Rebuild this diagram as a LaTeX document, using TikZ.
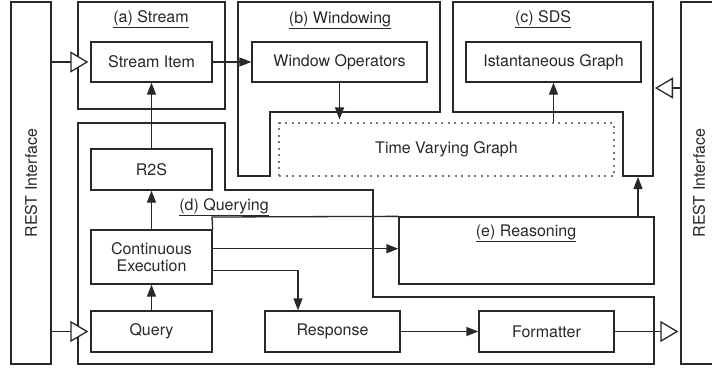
\documentclass[tikz,border=0pt]{standalone}
\usepackage{fontspec}
\setmainfont{TeX Gyre Heros}
\usetikzlibrary{arrows.meta,calc}
\definecolor{ink}{RGB}{40,40,40}
\definecolor{dotink}{RGB}{120,120,120}
\tikzset{
  every node/.style={font=\fontsize{16}{17}\selectfont, text=ink},
  box/.style={draw=ink, line width=1.3pt, inner sep=0pt, align=center},
  region/.style={draw=ink, line width=1.3pt},
  conn/.style={draw=ink, line width=1.3pt},
  arr/.style={conn, -{Triangle[length=12pt,width=9pt]}},
  openarr/.style={conn, -{Triangle[open,length=18pt,width=21pt,fill=white]}},
  dotbox/.style={draw=dotink, line width=1.1pt, dash pattern=on 2pt off 4.5pt, inner sep=0pt},
  title/.style={inner sep=0pt}
}
\begin{document}
\begin{tikzpicture}[x=1pt,y=-1pt]
\useasboundingbox (0,0) rectangle (712,367);
\clip (0,0) rectangle (712,367);

% REST interfaces on both sides
\node[box, minimum width=40pt, minimum height=362pt] (restL) at (31,183) {};
\node[rotate=90] (restLtxt) at (restL.center) {REST Interface};
\node[box, minimum width=40pt, minimum height=362pt] (restR) at (701,183) {};
\node[rotate=90] (restRtxt) at (699,183) {REST Interface};

% (a) Stream
\draw[region] (78,2) rectangle (225,109);
\node[title] (lblA) at (151,19) {\underline{(a) Stream}};
\node[box, minimum width=121pt, minimum height=40pt] (streamItem) at (151.5,62) {Stream Item};

% (b) Windowing
\draw[region] (238,2) -- (440,2) -- (440,112) -- (270,112) -- (270,176) -- (238,176) -- cycle;
\node[title] (lblB) at (340,20) {\underline{(b) Windowing}};
\node[box, minimum width=175pt, minimum height=40pt] (winOps) at (339.5,62) {Window Operators};

% (c) SDS
\draw[region] (453,2) -- (653,2) -- (653,176) -- (623,176) -- (623,112) -- (453,112) -- cycle;
\node[title] (lblC) at (543,19) {\underline{(c) SDS}};
\node[box, minimum width=175pt, minimum height=40pt] (instGraph) at (553.5,62) {Istantaneous Graph};
\coordinate (sdsRight) at (653,88);
\coordinate (sdsBottom) at (638,176);

% time varying graph
\node[dotbox, minimum width=335pt, minimum height=53pt] (tvg) at (446.5,149.5) {Time Varying Graph};

% (d) Querying
\draw[region] (78,123) -- (225,123) -- (225,190) -- (373,190) -- (373,297) -- (654,297) -- (654,364) -- (78,364) -- cycle;
\node[title] (lblD) at (224,207) {\underline{(d) Querying}};
\node[box, minimum width=121pt, minimum height=41pt] (r2s) at (151.5,169.5) {R2S};
\node[box, minimum width=121pt, minimum height=54pt] (contExec) at (151.5,257) {Continuous\\Execution};
\node[box, minimum width=121pt, minimum height=41pt] (query) at (151.5,331.5) {Query};
\node[box, minimum width=135pt, minimum height=41pt] (response) at (332.5,331.5) {Response};
\node[box, minimum width=135pt, minimum height=41pt] (formatter) at (546.5,331.5) {Formatter};

% (e) Reasoning
\node[box, minimum width=255pt, minimum height=67pt] (reasoning) at (526.5,250.5) {};
\node[title] (lblE) at (526,233) {\underline{(e) Reasoning}};
\draw[region] (contExec.north east) -- (212,217) -- (reasoning.north west);

% connectors
\coordinate (ceA) at ($(contExec.north east)!0.35!(contExec.south east)$);
\coordinate (ceB) at ($(contExec.north east)!0.74!(contExec.south east)$);

\draw[openarr] (restL.east |- streamItem.west) -- ([xshift=-2pt]streamItem.west);
\draw[arr] (streamItem.east) -- (winOps.west);
\draw[arr] (winOps.south) -- ([yshift=3pt]winOps.south |- tvg.north);
\draw[arr] (instGraph.south |- tvg.north) -- (instGraph.south);
\draw[openarr] (restR.west |- sdsRight) -- ([xshift=2pt]sdsRight);
\draw[arr] (sdsBottom |- reasoning.north) -- ([yshift=-1pt]sdsBottom);

\draw[arr] (r2s.north) -- (streamItem.south);
\draw[arr] (contExec.north) -- (r2s.south);
\draw[arr] (query.north) -- (contExec.south);
\draw[openarr] (restL.east |- query.west) -- ([xshift=-2pt]query.west);
\draw[arr] (ceA) -- (reasoning.west |- ceA);
\draw[arr] (ceB) -| ([xshift=-34.5pt]response.north);
\draw[arr] (response.east) -- (formatter.west);
\draw[openarr] (formatter.east) -- ([xshift=-2pt]restR.west |- formatter.east);
\end{tikzpicture}
\end{document}
